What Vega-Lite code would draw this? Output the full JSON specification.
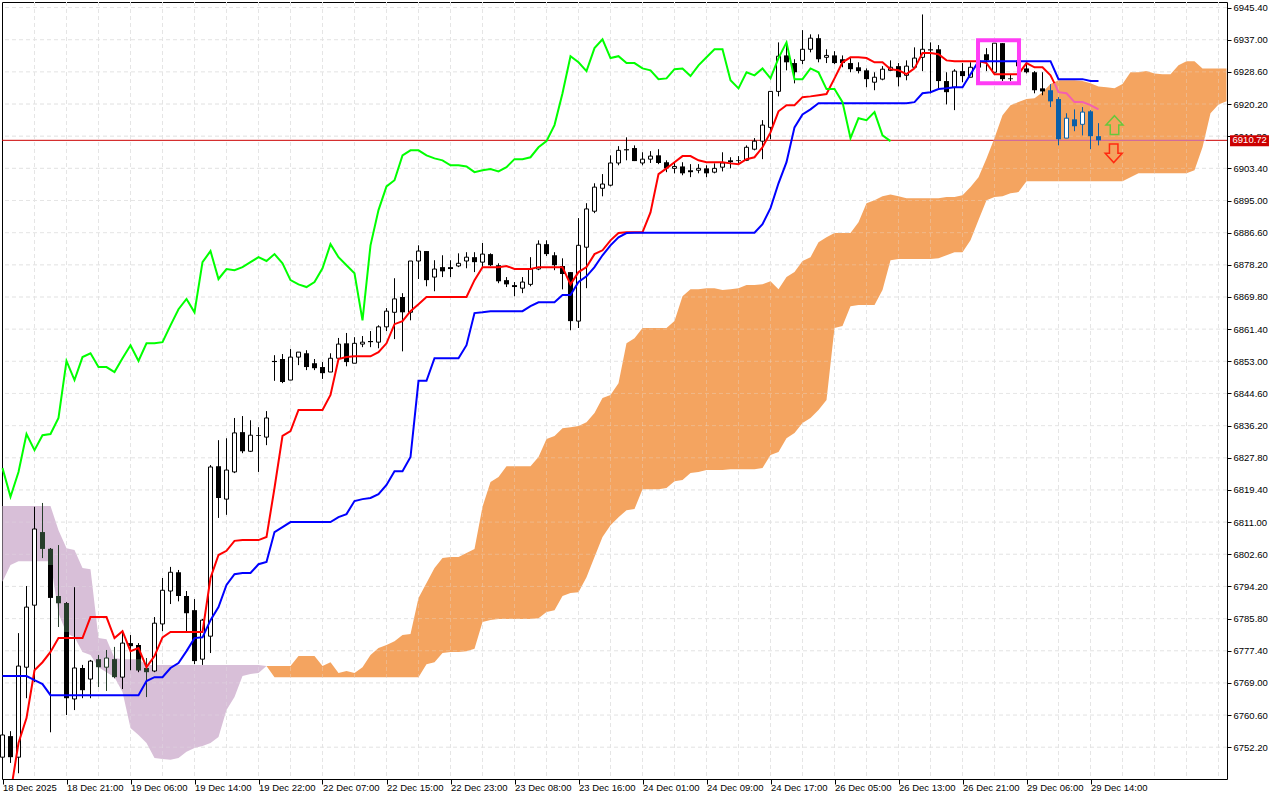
{
"$schema":"https://vega.github.io/schema/vega-lite/v6.json",
"width":1225,"height":777,
"autosize":{"type":"none"},
"padding":{"left":2,"top":2,"right":53,"bottom":21},
"background":"#ffffff",
"view":{"stroke":"#000000","strokeWidth":1,"fill":"#ffffff"},
"config":{"axis":{"labelFont":"Liberation Sans","labelFontSize":9.5,"labelColor":"#000000","tickColor":"#000000","domain":false,"grid":false}},
"datasets":{
"gridX":[{"i":4},{"i":8},{"i":12},{"i":16},{"i":20},{"i":24},{"i":28},{"i":32},{"i":36},{"i":40},{"i":44},{"i":48},{"i":52},{"i":56},{"i":60},{"i":64},{"i":68},{"i":72},{"i":76},{"i":80},{"i":84},{"i":88},{"i":92},{"i":96},{"i":100},{"i":104},{"i":108},{"i":112},{"i":116},{"i":120},{"i":124},{"i":128},{"i":132},{"i":136},{"i":140},{"i":144},{"i":148},{"i":152}],
"gridY":[{"p":6945.4},{"p":6937},{"p":6928.6},{"p":6920.2},{"p":6911.8},{"p":6903.4},{"p":6895},{"p":6886.6},{"p":6878.2},{"p":6869.8},{"p":6861.4},{"p":6853},{"p":6844.6},{"p":6836.2},{"p":6827.8},{"p":6819.4},{"p":6811},{"p":6802.6},{"p":6794.2},{"p":6785.8},{"p":6777.4},{"p":6769},{"p":6760.6},{"p":6752.2}],
"kumoPurple":[{"i":0,"top":6815.2,"bot":6795.4},{"i":1,"top":6815.2,"bot":6799.8},{"i":2,"top":6815.2,"bot":6800.8},{"i":3,"top":6815.2,"bot":6800.8},{"i":4,"top":6815.2,"bot":6800.8},{"i":5,"top":6815.2,"bot":6800.8},{"i":6,"top":6815.2,"bot":6800.8},{"i":7,"top":6808.9,"bot":6787.2},{"i":8,"top":6804.2,"bot":6782},{"i":9,"top":6803.7,"bot":6780.9},{"i":10,"top":6799,"bot":6777.1},{"i":11,"top":6798.7,"bot":6776.3},{"i":12,"top":6780.7,"bot":6773.1},{"i":13,"top":6780.4,"bot":6771.8},{"i":14,"top":6775.5,"bot":6770.5},{"i":15,"top":6775.2,"bot":6766.6},{"i":16,"top":6775.2,"bot":6757.2},{"i":17,"top":6775.2,"bot":6755.4},{"i":18,"top":6773.7,"bot":6753.3},{"i":19,"top":6773.7,"bot":6749.4},{"i":20,"top":6773.7,"bot":6749.1},{"i":21,"top":6773.7,"bot":6748.9},{"i":22,"top":6773.7,"bot":6749.4},{"i":23,"top":6773.7,"bot":6751},{"i":24,"top":6773.7,"bot":6752},{"i":25,"top":6773.7,"bot":6752.5},{"i":26,"top":6773.7,"bot":6753.3},{"i":27,"top":6773.7,"bot":6754.9},{"i":28,"top":6773.7,"bot":6761.9},{"i":29,"top":6773.7,"bot":6765.3},{"i":30,"top":6773.7,"bot":6770.8},{"i":31,"top":6773.7,"bot":6771.3},{"i":32,"top":6773.7,"bot":6771.6},{"i":33,"top":6773.4,"bot":6773.4}],
"kumoOrange":[{"i":33,"top":6773.4,"bot":6773.4},{"i":34,"top":6773.4,"bot":6770.5},{"i":35,"top":6773.4,"bot":6770.5},{"i":36,"top":6773.4,"bot":6770.5},{"i":37,"top":6776,"bot":6770.5},{"i":38,"top":6776,"bot":6770.5},{"i":39,"top":6776,"bot":6770.5},{"i":40,"top":6773.4,"bot":6770.5},{"i":41,"top":6774.4,"bot":6770.5},{"i":42,"top":6771.6,"bot":6770.5},{"i":43,"top":6772.1,"bot":6770.5},{"i":44,"top":6771.6,"bot":6770.5},{"i":45,"top":6773.1,"bot":6770.5},{"i":46,"top":6776.3,"bot":6770.5},{"i":47,"top":6778.1,"bot":6770.5},{"i":48,"top":6778.9,"bot":6770.5},{"i":49,"top":6779.9,"bot":6770.5},{"i":50,"top":6781.5,"bot":6770.5},{"i":51,"top":6781.8,"bot":6770.5},{"i":52,"top":6791.2,"bot":6770.5},{"i":53,"top":6795.1,"bot":6773.9},{"i":54,"top":6799,"bot":6774.4},{"i":55,"top":6801.6,"bot":6776.8},{"i":56,"top":6801.9,"bot":6777.1},{"i":57,"top":6801.9,"bot":6777.1},{"i":58,"top":6802.9,"bot":6777.3},{"i":59,"top":6804,"bot":6777.9},{"i":60,"top":6815,"bot":6784.9},{"i":61,"top":6821.5,"bot":6785.4},{"i":62,"top":6822.8,"bot":6785.7},{"i":63,"top":6825.6,"bot":6785.7},{"i":64,"top":6825.6,"bot":6785.7},{"i":65,"top":6825.6,"bot":6785.7},{"i":66,"top":6825.6,"bot":6785.7},{"i":67,"top":6828,"bot":6785.9},{"i":68,"top":6832.7,"bot":6787.5},{"i":69,"top":6833.5,"bot":6788},{"i":70,"top":6835.5,"bot":6791.7},{"i":71,"top":6835.8,"bot":6792.5},{"i":72,"top":6836.1,"bot":6792.7},{"i":73,"top":6837.1,"bot":6796.6},{"i":74,"top":6839.5,"bot":6801.9},{"i":75,"top":6843.4,"bot":6807.1},{"i":76,"top":6844.2,"bot":6810.2},{"i":77,"top":6847.3,"bot":6812.3},{"i":78,"top":6857.7,"bot":6814.1},{"i":79,"top":6859,"bot":6814.4},{"i":80,"top":6861.7,"bot":6819.6},{"i":81,"top":6861.7,"bot":6819.6},{"i":82,"top":6861.7,"bot":6819.6},{"i":83,"top":6861.7,"bot":6819.9},{"i":84,"top":6863.5,"bot":6821.7},{"i":85,"top":6870,"bot":6822},{"i":86,"top":6871.8,"bot":6823.8},{"i":87,"top":6871.8,"bot":6824.1},{"i":88,"top":6872.1,"bot":6824.6},{"i":89,"top":6872.1,"bot":6824.6},{"i":90,"top":6871.6,"bot":6824.6},{"i":91,"top":6871.8,"bot":6824.8},{"i":92,"top":6872.1,"bot":6824.8},{"i":93,"top":6872.9,"bot":6824.8},{"i":94,"top":6872.9,"bot":6824.8},{"i":95,"top":6873.1,"bot":6825.1},{"i":96,"top":6873.9,"bot":6828.5},{"i":97,"top":6871.8,"bot":6829.3},{"i":98,"top":6875,"bot":6832.9},{"i":99,"top":6876.3,"bot":6834.3},{"i":100,"top":6879.2,"bot":6836.9},{"i":101,"top":6880.2,"bot":6838.2},{"i":102,"top":6884.1,"bot":6840.3},{"i":103,"top":6885.4,"bot":6842.9},{"i":104,"top":6886.5,"bot":6861.7},{"i":105,"top":6886.5,"bot":6862.2},{"i":106,"top":6886.5,"bot":6867.4},{"i":107,"top":6889.3,"bot":6867.7},{"i":108,"top":6894.3,"bot":6867.7},{"i":109,"top":6895.1,"bot":6867.7},{"i":110,"top":6896.1,"bot":6871.6},{"i":111,"top":6896.6,"bot":6879.4},{"i":112,"top":6896.1,"bot":6879.7},{"i":113,"top":6895.6,"bot":6879.7},{"i":114,"top":6895.6,"bot":6879.7},{"i":115,"top":6895.6,"bot":6879.7},{"i":116,"top":6895.6,"bot":6879.7},{"i":117,"top":6895.6,"bot":6879.9},{"i":118,"top":6895.9,"bot":6880.7},{"i":119,"top":6895.9,"bot":6881.5},{"i":120,"top":6896.4,"bot":6881.5},{"i":121,"top":6898.5,"bot":6884.6},{"i":122,"top":6901.1,"bot":6889.9},{"i":123,"top":6906,"bot":6895.1},{"i":124,"top":6911.3,"bot":6895.9},{"i":125,"top":6917.3,"bot":6896.1},{"i":126,"top":6919.9,"bot":6896.9},{"i":127,"top":6920.7,"bot":6897.2},{"i":128,"top":6921.5,"bot":6900},{"i":129,"top":6921.7,"bot":6900},{"i":130,"top":6923.3,"bot":6900},{"i":131,"top":6925.4,"bot":6900},{"i":132,"top":6926.4,"bot":6900},{"i":133,"top":6926.4,"bot":6900},{"i":134,"top":6926.4,"bot":6900},{"i":135,"top":6926.2,"bot":6900},{"i":136,"top":6925.6,"bot":6900},{"i":137,"top":6924.8,"bot":6900},{"i":138,"top":6924.6,"bot":6900},{"i":139,"top":6924.3,"bot":6900},{"i":140,"top":6925.4,"bot":6900},{"i":141,"top":6928.5,"bot":6901.1},{"i":142,"top":6928.5,"bot":6902.1},{"i":143,"top":6928.8,"bot":6902.1},{"i":144,"top":6928.2,"bot":6902.1},{"i":145,"top":6928,"bot":6902.1},{"i":146,"top":6928,"bot":6902.1},{"i":147,"top":6930.3,"bot":6902.1},{"i":148,"top":6931.4,"bot":6902.1},{"i":149,"top":6931.4,"bot":6902.9},{"i":150,"top":6929.5,"bot":6908.9},{"i":151,"top":6929.5,"bot":6917.8},{"i":152,"top":6929.5,"bot":6920.1},{"i":153,"top":6929.5,"bot":6920.9}],
"priceLine":[{"a":-0.0625,"b":123.9,"p":6910.72,"part":"outside"},{"a":123.9,"b":150.4,"p":6910.72,"part":"inside"},{"a":150.4,"b":153.0625,"p":6910.72,"part":"outside"}],
"candles":[
{"i":0,"o":6749.6,"h":6755.9,"l":6749.1,"c":6755.4,"z":"none"},
{"i":1,"o":6755.1,"h":6756.4,"l":6748.1,"c":6749.6,"z":"none"},
{"i":2,"o":6749.6,"h":6782,"l":6745.4,"c":6773.4,"z":"none"},
{"i":3,"o":6773.1,"h":6794.3,"l":6765,"c":6788.8,"z":"none"},
{"i":4,"o":6789.3,"h":6815,"l":6769.2,"c":6809.2,"z":"none"},
{"i":5,"o":6808.4,"h":6816,"l":6801.6,"c":6804,"z":"purple"},
{"i":6,"o":6804,"h":6804.2,"l":6756.1,"c":6791.2,"z":"none"},
{"i":7,"o":6791.7,"h":6805,"l":6783.6,"c":6789.8,"z":"purple"},
{"i":8,"o":6789.8,"h":6790.1,"l":6760.6,"c":6765,"z":"none"},
{"i":9,"o":6764.8,"h":6794,"l":6761.9,"c":6772.9,"z":"none"},
{"i":10,"o":6772.9,"h":6773.7,"l":6765,"c":6767.1,"z":"none"},
{"i":11,"o":6770,"h":6775,"l":6765,"c":6774.7,"z":"none"},
{"i":12,"o":6775.2,"h":6776.3,"l":6767.9,"c":6773.1,"z":"purple"},
{"i":13,"o":6773.1,"h":6777.6,"l":6766.9,"c":6775.5,"z":"purple"},
{"i":14,"o":6775.2,"h":6778.4,"l":6770.2,"c":6770.5,"z":"purple"},
{"i":15,"o":6770.5,"h":6782.8,"l":6767.4,"c":6779.4,"z":"none"},
{"i":16,"o":6779.4,"h":6781.5,"l":6772.3,"c":6778.6,"z":"none"},
{"i":17,"o":6778.9,"h":6779.4,"l":6771.8,"c":6772.3,"z":"none"},
{"i":18,"o":6772.9,"h":6775.5,"l":6765.3,"c":6771.8,"z":"purple"},
{"i":19,"o":6772.1,"h":6786.2,"l":6771.8,"c":6784.6,"z":"none"},
{"i":20,"o":6784.4,"h":6796.4,"l":6782.5,"c":6793.2,"z":"none"},
{"i":21,"o":6793,"h":6799.3,"l":6789.6,"c":6797.9,"z":"none"},
{"i":22,"o":6797.9,"h":6798.5,"l":6790.3,"c":6791.7,"z":"none"},
{"i":23,"o":6791.7,"h":6793,"l":6782.3,"c":6787.2,"z":"none"},
{"i":24,"o":6788,"h":6790.9,"l":6773.9,"c":6774.7,"z":"none"},
{"i":25,"o":6775.2,"h":6785.7,"l":6773.7,"c":6785.4,"z":"none"},
{"i":26,"o":6781.2,"h":6825.9,"l":6776.8,"c":6825.4,"z":"none"},
{"i":27,"o":6825.6,"h":6832.4,"l":6812.1,"c":6817.3,"z":"none"},
{"i":28,"o":6817,"h":6832.9,"l":6812.9,"c":6824.6,"z":"none"},
{"i":29,"o":6824.1,"h":6838.2,"l":6823.8,"c":6834.3,"z":"none"},
{"i":30,"o":6834.5,"h":6838.7,"l":6829,"c":6829.5,"z":"none"},
{"i":31,"o":6829.5,"h":6837.6,"l":6829.3,"c":6833.7,"z":"none"},
{"i":32,"o":6833.7,"h":6835.8,"l":6824.1,"c":6833.5,"z":"none"},
{"i":33,"o":6833.2,"h":6840,"l":6831.1,"c":6838.2,"z":"none"},
{"i":34,"o":6853.1,"h":6854.6,"l":6847.9,"c":6852.8,"z":"none"},
{"i":35,"o":6853.6,"h":6854.9,"l":6847.3,"c":6847.6,"z":"none"},
{"i":36,"o":6848.1,"h":6856.2,"l":6848.1,"c":6854.1,"z":"none"},
{"i":37,"o":6854.1,"h":6855.4,"l":6852,"c":6855.4,"z":"none"},
{"i":38,"o":6855.1,"h":6855.9,"l":6850.7,"c":6851.5,"z":"none"},
{"i":39,"o":6852.5,"h":6853.6,"l":6850.7,"c":6851.2,"z":"none"},
{"i":40,"o":6851.5,"h":6852.8,"l":6848.4,"c":6849.9,"z":"none"},
{"i":41,"o":6850.2,"h":6855.1,"l":6850.2,"c":6853.8,"z":"none"},
{"i":42,"o":6853.8,"h":6859.1,"l":6853.3,"c":6857.5,"z":"none"},
{"i":43,"o":6857.7,"h":6860.4,"l":6851.7,"c":6852.8,"z":"none"},
{"i":44,"o":6852.5,"h":6859.3,"l":6852.5,"c":6857.7,"z":"none"},
{"i":45,"o":6857.5,"h":6859.6,"l":6856.7,"c":6858,"z":"none"},
{"i":46,"o":6858.3,"h":6860.9,"l":6856.7,"c":6858,"z":"none"},
{"i":47,"o":6858,"h":6862.4,"l":6856.4,"c":6862,"z":"none"},
{"i":48,"o":6862,"h":6866.9,"l":6860.9,"c":6866.1,"z":"none"},
{"i":49,"o":6865.8,"h":6874.7,"l":6858.8,"c":6869.3,"z":"none"},
{"i":50,"o":6869.8,"h":6870.8,"l":6855.6,"c":6865.8,"z":"none"},
{"i":51,"o":6865.8,"h":6879.2,"l":6863.7,"c":6879.2,"z":"none"},
{"i":52,"o":6879.2,"h":6883.3,"l":6874.5,"c":6881.8,"z":"none"},
{"i":53,"o":6881.8,"h":6881.8,"l":6872.6,"c":6874.2,"z":"none"},
{"i":54,"o":6875,"h":6879.4,"l":6871.3,"c":6877.1,"z":"none"},
{"i":55,"o":6877.6,"h":6880.7,"l":6875,"c":6876.5,"z":"none"},
{"i":56,"o":6877.6,"h":6879.4,"l":6875,"c":6877.1,"z":"none"},
{"i":57,"o":6877.9,"h":6881.2,"l":6877.6,"c":6878.6,"z":"none"},
{"i":58,"o":6879.2,"h":6881.5,"l":6877.3,"c":6880.2,"z":"none"},
{"i":59,"o":6880.2,"h":6881.5,"l":6876.3,"c":6878.9,"z":"none"},
{"i":60,"o":6878.9,"h":6883.9,"l":6877.6,"c":6881,"z":"none"},
{"i":61,"o":6881,"h":6881.2,"l":6877.9,"c":6878.1,"z":"none"},
{"i":62,"o":6878.1,"h":6878.6,"l":6873.4,"c":6873.9,"z":"none"},
{"i":63,"o":6874.2,"h":6875,"l":6872.4,"c":6873.1,"z":"none"},
{"i":64,"o":6872.9,"h":6873.7,"l":6870,"c":6872.4,"z":"none"},
{"i":65,"o":6872.1,"h":6875,"l":6870.8,"c":6873.7,"z":"none"},
{"i":66,"o":6873.1,"h":6880.2,"l":6872.6,"c":6877.1,"z":"none"},
{"i":67,"o":6877.1,"h":6884.6,"l":6876.8,"c":6883.6,"z":"none"},
{"i":68,"o":6883.6,"h":6884.6,"l":6880.5,"c":6881,"z":"none"},
{"i":69,"o":6880.7,"h":6881.5,"l":6876.8,"c":6878.1,"z":"none"},
{"i":70,"o":6877.9,"h":6879.9,"l":6871.8,"c":6875.8,"z":"none"},
{"i":71,"o":6876.3,"h":6876.3,"l":6861.1,"c":6863.5,"z":"none"},
{"i":72,"o":6863.5,"h":6890.4,"l":6861.7,"c":6883.3,"z":"none"},
{"i":73,"o":6882.8,"h":6894.3,"l":6872.1,"c":6892.8,"z":"none"},
{"i":74,"o":6892.2,"h":6899.5,"l":6891.7,"c":6898.5,"z":"none"},
{"i":75,"o":6898.2,"h":6901.9,"l":6896.1,"c":6899.3,"z":"none"},
{"i":76,"o":6899,"h":6906.8,"l":6898.7,"c":6904.8,"z":"none"},
{"i":77,"o":6904.8,"h":6909.2,"l":6904.2,"c":6908.1,"z":"none"},
{"i":78,"o":6908.4,"h":6911.5,"l":6905.5,"c":6908.1,"z":"none"},
{"i":79,"o":6908.7,"h":6909.4,"l":6905.3,"c":6905.3,"z":"none"},
{"i":80,"o":6904.8,"h":6907.6,"l":6904.2,"c":6905.8,"z":"none"},
{"i":81,"o":6905.8,"h":6907.9,"l":6904.8,"c":6906.6,"z":"none"},
{"i":82,"o":6906.8,"h":6908.4,"l":6904.5,"c":6904.8,"z":"none"},
{"i":83,"o":6905,"h":6905.5,"l":6902.4,"c":6903.4,"z":"none"},
{"i":84,"o":6903.4,"h":6905,"l":6902.1,"c":6903.9,"z":"none"},
{"i":85,"o":6903.9,"h":6905,"l":6901.6,"c":6902.1,"z":"none"},
{"i":86,"o":6902.9,"h":6904.5,"l":6901.1,"c":6902.4,"z":"none"},
{"i":87,"o":6902.9,"h":6904.5,"l":6902.1,"c":6903.4,"z":"none"},
{"i":88,"o":6903.4,"h":6904.2,"l":6901.1,"c":6902.1,"z":"none"},
{"i":89,"o":6902.4,"h":6904.7,"l":6902.1,"c":6903.4,"z":"none"},
{"i":90,"o":6903.7,"h":6907.6,"l":6902.6,"c":6904.8,"z":"none"},
{"i":91,"o":6905.5,"h":6906.3,"l":6903.4,"c":6905,"z":"none"},
{"i":92,"o":6905.5,"h":6906.6,"l":6904.8,"c":6905.3,"z":"none"},
{"i":93,"o":6905.5,"h":6909.4,"l":6905.3,"c":6908.9,"z":"none"},
{"i":94,"o":6908.4,"h":6911.3,"l":6908.1,"c":6910.5,"z":"none"},
{"i":95,"o":6910.5,"h":6916,"l":6905.8,"c":6914.7,"z":"none"},
{"i":96,"o":6914.1,"h":6923.5,"l":6911,"c":6923.5,"z":"none"},
{"i":97,"o":6923.5,"h":6936.3,"l":6922.2,"c":6932.7,"z":"none"},
{"i":98,"o":6932.9,"h":6936.3,"l":6929,"c":6931.1,"z":"none"},
{"i":99,"o":6930.9,"h":6931.9,"l":6925.6,"c":6928.5,"z":"none"},
{"i":100,"o":6931.6,"h":6939.5,"l":6930.6,"c":6934.5,"z":"none"},
{"i":101,"o":6934.5,"h":6938.4,"l":6933.7,"c":6937.4,"z":"none"},
{"i":102,"o":6937.4,"h":6938.4,"l":6931.1,"c":6931.9,"z":"none"},
{"i":103,"o":6932.4,"h":6934.5,"l":6930.9,"c":6932.9,"z":"none"},
{"i":104,"o":6932.9,"h":6934,"l":6930.6,"c":6930.9,"z":"none"},
{"i":105,"o":6931.9,"h":6932.9,"l":6929.8,"c":6930.9,"z":"none"},
{"i":106,"o":6930.9,"h":6932.2,"l":6928.5,"c":6929.3,"z":"none"},
{"i":107,"o":6929.8,"h":6931.1,"l":6928.2,"c":6928.8,"z":"none"},
{"i":108,"o":6929,"h":6929.5,"l":6924.6,"c":6926.7,"z":"none"},
{"i":109,"o":6925.9,"h":6928.5,"l":6923.8,"c":6927.2,"z":"none"},
{"i":110,"o":6926.7,"h":6930.1,"l":6926.4,"c":6929.3,"z":"none"},
{"i":111,"o":6929,"h":6931.6,"l":6928.8,"c":6929.8,"z":"none"},
{"i":112,"o":6930.1,"h":6930.9,"l":6924.8,"c":6927.2,"z":"none"},
{"i":113,"o":6927.7,"h":6931.6,"l":6926.4,"c":6930.1,"z":"none"},
{"i":114,"o":6929.8,"h":6935,"l":6929.5,"c":6932.2,"z":"none"},
{"i":115,"o":6932.4,"h":6943.6,"l":6928.8,"c":6934.5,"z":"none"},
{"i":116,"o":6934.5,"h":6936.3,"l":6923,"c":6934.2,"z":"none"},
{"i":117,"o":6934.5,"h":6935.6,"l":6924.3,"c":6926.2,"z":"none"},
{"i":118,"o":6926.2,"h":6928.5,"l":6920.1,"c":6923.3,"z":"none"},
{"i":119,"o":6924.6,"h":6929.3,"l":6918.6,"c":6928.8,"z":"none"},
{"i":120,"o":6928.8,"h":6930.9,"l":6925.9,"c":6927.5,"z":"none"},
{"i":121,"o":6927.2,"h":6931.1,"l":6927.2,"c":6929.8,"z":"none"},
{"i":122,"o":6929.8,"h":6932.2,"l":6929.5,"c":6931.4,"z":"none"},
{"i":123,"o":6933.2,"h":6934.8,"l":6928.8,"c":6931.6,"z":"none"},
{"i":124,"o":6928.5,"h":6936.1,"l":6928.5,"c":6936.1,"z":"none"},
{"i":125,"o":6936.1,"h":6936.1,"l":6926.2,"c":6926.7,"z":"none"},
{"i":126,"o":6926.9,"h":6928,"l":6926.2,"c":6926.7,"z":"none"},
{"i":127,"o":6931.6,"h":6932.2,"l":6929,"c":6930.1,"z":"none"},
{"i":128,"o":6929.5,"h":6930.9,"l":6928.2,"c":6928.5,"z":"none"},
{"i":129,"o":6928.5,"h":6928.8,"l":6923,"c":6923.8,"z":"none"},
{"i":130,"o":6924.3,"h":6928.5,"l":6922.5,"c":6923.5,"z":"none"},
{"i":131,"o":6923.8,"h":6925.4,"l":6919.4,"c":6920.9,"z":"orange"},
{"i":132,"o":6921.5,"h":6922,"l":6909.4,"c":6911,"z":"orange"},
{"i":133,"o":6911.3,"h":6917.8,"l":6911.3,"c":6916.5,"z":"orange"},
{"i":134,"o":6916.2,"h":6918.8,"l":6913.1,"c":6914.4,"z":"orange"},
{"i":135,"o":6914.9,"h":6919.4,"l":6912,"c":6918.1,"z":"orange"},
{"i":136,"o":6918.3,"h":6918.6,"l":6908.4,"c":6911.8,"z":"orange"},
{"i":137,"o":6911.8,"h":6915.2,"l":6909.4,"c":6910.72,"z":"orange"}
],
"tint":[{"i":6,"from":6804,"to":6799.8},{"i":8,"from":6789.8,"to":6782.3},{"i":17,"from":6775.2,"to":6772.3}],
"red":[{"i":1,"v":6740.2},{"i":2,"v":6753.3},{"i":3,"v":6759.8},{"i":4,"v":6772.3},{"i":5,"v":6774.4},{"i":6,"v":6777.1},{"i":7,"v":6780.7},{"i":8,"v":6780.7},{"i":9,"v":6780.7},{"i":10,"v":6780.7},{"i":11,"v":6786.2},{"i":12,"v":6786.2},{"i":13,"v":6786.2},{"i":14,"v":6780.7},{"i":15,"v":6782.5},{"i":16,"v":6777.3},{"i":17,"v":6778.1},{"i":18,"v":6773.1},{"i":19,"v":6776},{"i":20,"v":6780.9},{"i":21,"v":6782.3},{"i":22,"v":6782.3},{"i":23,"v":6782.3},{"i":24,"v":6782.3},{"i":25,"v":6782.3},{"i":26,"v":6796.4},{"i":27,"v":6802.4},{"i":28,"v":6803.5},{"i":29,"v":6806.1},{"i":30,"v":6806.3},{"i":31,"v":6806.3},{"i":32,"v":6806.3},{"i":33,"v":6807.1},{"i":34,"v":6819.9},{"i":35,"v":6833.5},{"i":36,"v":6834.8},{"i":37,"v":6840.3},{"i":38,"v":6840.3},{"i":39,"v":6840.3},{"i":40,"v":6840.3},{"i":41,"v":6844.2},{"i":42,"v":6853.6},{"i":43,"v":6854.1},{"i":44,"v":6854.3},{"i":45,"v":6854.3},{"i":46,"v":6854.3},{"i":47,"v":6855.4},{"i":48,"v":6857.7},{"i":49,"v":6862.7},{"i":50,"v":6863.5},{"i":51,"v":6866.1},{"i":52,"v":6867.9},{"i":53,"v":6869.8},{"i":54,"v":6869.8},{"i":55,"v":6869.8},{"i":56,"v":6869.8},{"i":57,"v":6869.8},{"i":58,"v":6869.8},{"i":59,"v":6874.2},{"i":60,"v":6877.6},{"i":61,"v":6877.6},{"i":62,"v":6877.6},{"i":63,"v":6877.9},{"i":64,"v":6877.1},{"i":65,"v":6877.1},{"i":66,"v":6877.1},{"i":67,"v":6877.6},{"i":68,"v":6877.6},{"i":69,"v":6877.6},{"i":70,"v":6877.6},{"i":71,"v":6873.1},{"i":72,"v":6876.3},{"i":73,"v":6877.6},{"i":74,"v":6881},{"i":75,"v":6882},{"i":76,"v":6884.6},{"i":77,"v":6886.5},{"i":78,"v":6886.7},{"i":79,"v":6886.7},{"i":80,"v":6886.7},{"i":81,"v":6891.9},{"i":82,"v":6901.9},{"i":83,"v":6903.4},{"i":84,"v":6905},{"i":85,"v":6906.6},{"i":86,"v":6906.6},{"i":87,"v":6905.5},{"i":88,"v":6905},{"i":89,"v":6905},{"i":90,"v":6905},{"i":91,"v":6904.7},{"i":92,"v":6904.5},{"i":93,"v":6905.8},{"i":94,"v":6906.3},{"i":95,"v":6908.9},{"i":96,"v":6912.8},{"i":97,"v":6918.3},{"i":98,"v":6919.9},{"i":99,"v":6919.9},{"i":100,"v":6922},{"i":101,"v":6922.2},{"i":102,"v":6922.5},{"i":103,"v":6922.8},{"i":104,"v":6926.9},{"i":105,"v":6931.1},{"i":106,"v":6932.4},{"i":107,"v":6932.4},{"i":108,"v":6932.2},{"i":109,"v":6931.1},{"i":110,"v":6931.1},{"i":111,"v":6929.3},{"i":112,"v":6929},{"i":113,"v":6928},{"i":114,"v":6929.5},{"i":115,"v":6933.5},{"i":116,"v":6933.5},{"i":117,"v":6933.2},{"i":118,"v":6931.6},{"i":119,"v":6931.4},{"i":120,"v":6931.4},{"i":121,"v":6931.4},{"i":122,"v":6931.4},{"i":123,"v":6930.9},{"i":124,"v":6928},{"i":125,"v":6928},{"i":126,"v":6928},{"i":127,"v":6928},{"i":128,"v":6930.9},{"i":129,"v":6929.8},{"i":130,"v":6929.8},{"i":131,"v":6927.7},{"i":131.5,"v":6925.6}],
"pink":[{"i":131.5,"v":6925.6},{"i":132,"v":6923.3},{"i":133,"v":6923},{"i":134,"v":6920.7},{"i":135,"v":6920.7},{"i":136,"v":6919.9},{"i":137,"v":6918.8}],
"blue":[{"i":0,"v":6770.8},{"i":1,"v":6770.8},{"i":2,"v":6770.8},{"i":3,"v":6770.8},{"i":4,"v":6769.7},{"i":5,"v":6768.7},{"i":6,"v":6765.8},{"i":7,"v":6765.8},{"i":8,"v":6765.8},{"i":9,"v":6765.8},{"i":10,"v":6765.8},{"i":11,"v":6765.8},{"i":12,"v":6765.8},{"i":13,"v":6765.8},{"i":14,"v":6765.8},{"i":15,"v":6765.8},{"i":16,"v":6765.8},{"i":17,"v":6765.8},{"i":18,"v":6769.5},{"i":19,"v":6770.5},{"i":20,"v":6770.5},{"i":21,"v":6772.9},{"i":22,"v":6774.2},{"i":23,"v":6777.3},{"i":24,"v":6780.7},{"i":25,"v":6780.9},{"i":26,"v":6785.4},{"i":27,"v":6788.8},{"i":28,"v":6794.6},{"i":29,"v":6797.4},{"i":30,"v":6797.7},{"i":31,"v":6797.7},{"i":32,"v":6800},{"i":33,"v":6800.6},{"i":34,"v":6808.4},{"i":35,"v":6809.7},{"i":36,"v":6811},{"i":37,"v":6811},{"i":38,"v":6811},{"i":39,"v":6811},{"i":40,"v":6811},{"i":41,"v":6811},{"i":42,"v":6812.3},{"i":43,"v":6813.1},{"i":44,"v":6816.5},{"i":45,"v":6817},{"i":46,"v":6817.3},{"i":47,"v":6818.3},{"i":48,"v":6820.7},{"i":49,"v":6824.3},{"i":50,"v":6824.3},{"i":51,"v":6828},{"i":52,"v":6847.9},{"i":53,"v":6847.9},{"i":54,"v":6853.8},{"i":55,"v":6853.8},{"i":56,"v":6853.8},{"i":57,"v":6853.8},{"i":58,"v":6857.2},{"i":59,"v":6865.6},{"i":60,"v":6865.8},{"i":61,"v":6866.1},{"i":62,"v":6866.1},{"i":63,"v":6866.1},{"i":64,"v":6866.1},{"i":65,"v":6866.1},{"i":66,"v":6867.4},{"i":67,"v":6868.4},{"i":68,"v":6868.4},{"i":69,"v":6868.4},{"i":70,"v":6870.3},{"i":71,"v":6870.3},{"i":72,"v":6873.7},{"i":73,"v":6875.2},{"i":74,"v":6877.6},{"i":75,"v":6880.7},{"i":76,"v":6883.3},{"i":77,"v":6885.4},{"i":78,"v":6886.5},{"i":79,"v":6886.6},{"i":94,"v":6886.6},{"i":95,"v":6888.8},{"i":96,"v":6893},{"i":97,"v":6899.5},{"i":98,"v":6905},{"i":99,"v":6914.1},{"i":100,"v":6917.5},{"i":101,"v":6918.8},{"i":102,"v":6920.4},{"i":113,"v":6920.4},{"i":114,"v":6920.7},{"i":115,"v":6923},{"i":116,"v":6923.3},{"i":117,"v":6924.1},{"i":118,"v":6924.3},{"i":119,"v":6924.6},{"i":120,"v":6924.6},{"i":121,"v":6928},{"i":122,"v":6931.4},{"i":131,"v":6931.4},{"i":132,"v":6926.7},{"i":135,"v":6926.7},{"i":136,"v":6926.2},{"i":137,"v":6926.2}],
"green":[{"i":0,"v":6825.1},{"i":1,"v":6817.6},{"i":2,"v":6824.1},{"i":3,"v":6834},{"i":4,"v":6829.8},{"i":5,"v":6833.7},{"i":6,"v":6834},{"i":7,"v":6838.2},{"i":8,"v":6853.1},{"i":9,"v":6848.1},{"i":10,"v":6854.1},{"i":11,"v":6855.1},{"i":12,"v":6851.5},{"i":13,"v":6851.5},{"i":14,"v":6850.2},{"i":15,"v":6853.8},{"i":16,"v":6857.2},{"i":17,"v":6853.1},{"i":18,"v":6857.7},{"i":19,"v":6857.7},{"i":20,"v":6858},{"i":21,"v":6862.4},{"i":22,"v":6866.6},{"i":23,"v":6869.3},{"i":24,"v":6865.8},{"i":25,"v":6878.9},{"i":26,"v":6881.8},{"i":27,"v":6874.5},{"i":28,"v":6877.1},{"i":29,"v":6876.8},{"i":30,"v":6877.6},{"i":31,"v":6878.9},{"i":32,"v":6880.2},{"i":33,"v":6879.2},{"i":34,"v":6881},{"i":35,"v":6878.6},{"i":36,"v":6874.2},{"i":37,"v":6873.1},{"i":38,"v":6872.4},{"i":39,"v":6873.7},{"i":40,"v":6877.3},{"i":41,"v":6883.6},{"i":42,"v":6880.2},{"i":43,"v":6878.1},{"i":44,"v":6876},{"i":45,"v":6863.7},{"i":46,"v":6883.3},{"i":47,"v":6892.5},{"i":48,"v":6898.7},{"i":49,"v":6900.3},{"i":50,"v":6906.8},{"i":51,"v":6908.1},{"i":52,"v":6908.1},{"i":53,"v":6906.8},{"i":54,"v":6906},{"i":55,"v":6905.5},{"i":56,"v":6904.2},{"i":57,"v":6904.2},{"i":58,"v":6903.9},{"i":59,"v":6902.4},{"i":60,"v":6902.9},{"i":61,"v":6903.2},{"i":62,"v":6902.6},{"i":63,"v":6903.7},{"i":64,"v":6905.8},{"i":65,"v":6905.8},{"i":66,"v":6906.3},{"i":67,"v":6908.9},{"i":68,"v":6910.5},{"i":69,"v":6914.7},{"i":70,"v":6923},{"i":71,"v":6932.7},{"i":72,"v":6931.1},{"i":73,"v":6928.8},{"i":74,"v":6934.8},{"i":75,"v":6937.1},{"i":76,"v":6932.2},{"i":77,"v":6932.7},{"i":78,"v":6930.9},{"i":79,"v":6930.9},{"i":80,"v":6929.5},{"i":81,"v":6929},{"i":82,"v":6926.7},{"i":83,"v":6926.9},{"i":84,"v":6929.3},{"i":85,"v":6929.5},{"i":86,"v":6927.5},{"i":87,"v":6930.3},{"i":88,"v":6932.4},{"i":89,"v":6934.5},{"i":90,"v":6934.5},{"i":91,"v":6926.4},{"i":92,"v":6924.3},{"i":93,"v":6928.5},{"i":94,"v":6927.7},{"i":95,"v":6929.5},{"i":96,"v":6926.9},{"i":97,"v":6932.2},{"i":98,"v":6936.3},{"i":99,"v":6926.7},{"i":100,"v":6926.7},{"i":101,"v":6929.5},{"i":102,"v":6928.5},{"i":103,"v":6924.1},{"i":104,"v":6924.1},{"i":105,"v":6920.7},{"i":106,"v":6911.3},{"i":107,"v":6916.5},{"i":108,"v":6916},{"i":109,"v":6918.1},{"i":110,"v":6912},{"i":111,"v":6910.5}]
},
"encoding":{
"x":{"field":"i","type":"quantitative","title":null,"scale":{"domain":[-0.0625,153.0625],"nice":false,"zero":false,"padding":0},
   "axis":{"values":[0,8,16,24,32,40,48,56,64,72,80,88,96,104,112,120,128,136],"labelExpr":"['18 Dec 2025','18 Dec 21:00','19 Dec 06:00','19 Dec 14:00','19 Dec 22:00','22 Dec 07:00','22 Dec 15:00','22 Dec 23:00','23 Dec 08:00','23 Dec 16:00','24 Dec 01:00','24 Dec 09:00','24 Dec 17:00','26 Dec 05:00','26 Dec 13:00','26 Dec 21:00','29 Dec 06:00','29 Dec 14:00'][datum.value/8]","labelAlign":"left","labelBaseline":"top","labelPadding":-2,"tickSize":5,"labelOverlap":false,"labelBound":false,"labelFlush":false}},
"y":{"field":"p","type":"quantitative","title":null,"scale":{"domain":[6743.9,6946.85],"nice":false,"zero":false},
   "axis":{"orient":"right","values":[6945.4,6937,6928.6,6920.2,6911.8,6903.4,6895,6886.6,6878.2,6869.8,6861.4,6853,6844.6,6836.2,6827.8,6819.4,6811,6802.6,6794.2,6785.8,6777.4,6769,6760.6,6752.2],"format":".2f","tickSize":4,"labelPadding":2,"labelOverlap":false,"labelBound":false,"labelFlush":false}}
},
"layer":[
{"data":{"name":"gridX"},"mark":{"type":"rule","color":"#e6e6e6","strokeDash":[4,3],"strokeWidth":1},"encoding":{"y":null}},
{"data":{"name":"gridY"},"mark":{"type":"rule","color":"#e6e6e6","strokeDash":[4,3],"strokeWidth":1},"encoding":{"x":null}},
{"data":{"name":"kumoPurple"},"mark":{"type":"area","color":"#d8bfd8","orient":"vertical","opacity":1},
 "encoding":{"y":{"field":"top","type":"quantitative","title":null},"y2":{"field":"bot"}}},
{"data":{"name":"kumoOrange"},"mark":{"type":"area","color":"#f4a460","orient":"vertical","opacity":1},
 "encoding":{"y":{"field":"top","type":"quantitative","title":null},"y2":{"field":"bot"}}},
{"data":{"name":"gridX"},"mark":{"type":"rule","color":"#e6e6e6","opacity":0.3,"strokeDash":[4,3],"strokeWidth":1},"encoding":{"y":null}},
{"data":{"name":"gridY"},"mark":{"type":"rule","color":"#e6e6e6","opacity":0.3,"strokeDash":[4,3],"strokeWidth":1},"encoding":{"x":null}},
{"data":{"name":"priceLine"},"mark":{"type":"rule","strokeWidth":1},
 "encoding":{"x":{"field":"a","type":"quantitative","title":null},"x2":{"field":"b"},
   "color":{"field":"part","type":"nominal","legend":null,"scale":{"domain":["outside","inside"],"range":["#cc0000","#c860a8"]}}}},
{"data":{"name":"candles"},"mark":{"type":"rule","strokeWidth":1},
 "encoding":{"y":{"field":"h","type":"quantitative","title":null},"y2":{"field":"l"},
   "stroke":{"field":"z","type":"nominal","legend":null,"scale":{"domain":["none","purple","orange"],"range":["#000000","#263d2a","#0a5fa8"]}}}},
{"data":{"name":"candles"},"transform":[{"filter":"datum.c>=datum.o"}],"mark":{"type":"bar","width":4,"fill":"#ffffff","strokeWidth":1},
 "encoding":{"y":{"field":"o","type":"quantitative","title":null},"y2":{"field":"c"},
   "stroke":{"field":"z","type":"nominal","legend":null,"scale":{"domain":["none","purple","orange"],"range":["#000000","#263d2a","#0a5fa8"]}}}},
{"data":{"name":"candles"},"transform":[{"filter":"datum.c<datum.o"}],"mark":{"type":"bar","width":5},
 "encoding":{"y":{"field":"o","type":"quantitative","title":null},"y2":{"field":"c"},
   "fill":{"field":"z","type":"nominal","legend":null,"scale":{"domain":["none","purple","orange"],"range":["#000000","#263d2a","#0a5fa8"]}}}},
{"data":{"name":"tint"},"mark":{"type":"bar","width":5,"color":"#263d2a"},
 "encoding":{"y":{"field":"from","type":"quantitative","title":null},"y2":{"field":"to"}}},
{"data":{"name":"red"},"mark":{"type":"line","color":"#ff0000","strokeWidth":2,"clip":true},
 "encoding":{"y":{"field":"v","type":"quantitative","title":null}}},
{"data":{"name":"pink"},"mark":{"type":"line","color":"#f45fb0","strokeWidth":2},
 "encoding":{"y":{"field":"v","type":"quantitative","title":null}}},
{"data":{"name":"blue"},"mark":{"type":"line","color":"#0000ff","strokeWidth":2},
 "encoding":{"y":{"field":"v","type":"quantitative","title":null}}},
{"data":{"name":"green"},"mark":{"type":"line","color":"#00ff00","strokeWidth":2},
 "encoding":{"y":{"field":"v","type":"quantitative","title":null}}},
{"data":{"values":[{"a":121.94,"b":127.06,"top":6936.86,"bot":6925.63}]},"mark":{"type":"rect","filled":false,"stroke":"#ff3cf5","strokeWidth":4},
 "encoding":{"x":{"field":"a","type":"quantitative","title":null},"x2":{"field":"b"},"y":{"field":"top","type":"quantitative","title":null},"y2":{"field":"bot"}}},
{"data":{"values":[{"i":139,"p":6914.7}]},"mark":{"type":"point","filled":false,"shape":"M0,-1.1L1,0L0.5,0L0.5,1.1L-0.5,1.1L-0.5,0L-1,0Z","size":289,"stroke":"#68c83c","strokeWidth":1.5,"opacity":1}},
{"data":{"values":[{"i":138.9,"p":6907.35}]},"mark":{"type":"point","filled":false,"shape":"M-0.5,-1.1L0.5,-1.1L0.5,0L1,0L0,1.1L-1,0L-0.5,0Z","size":289,"stroke":"#ff2a10","strokeWidth":1.5,"opacity":1}},
{"data":{"values":[{"a":153.44,"b":158.31,"top":6912.05,"bot":6909.2}]},"mark":{"type":"rect","color":"#cc0000"},
 "encoding":{"x":{"field":"a","type":"quantitative","title":null},"x2":{"field":"b"},"y":{"field":"top","type":"quantitative","title":null},"y2":{"field":"bot"}}},
{"data":{"values":[{"mid":155.9,"p":6910.72,"label":"6910.72"}]},"mark":{"type":"text","color":"#ffffff","font":"Liberation Sans","fontSize":9.5,"align":"center","baseline":"middle"},
 "encoding":{"x":{"field":"mid","type":"quantitative","title":null},"text":{"field":"label"}}}
]
}
